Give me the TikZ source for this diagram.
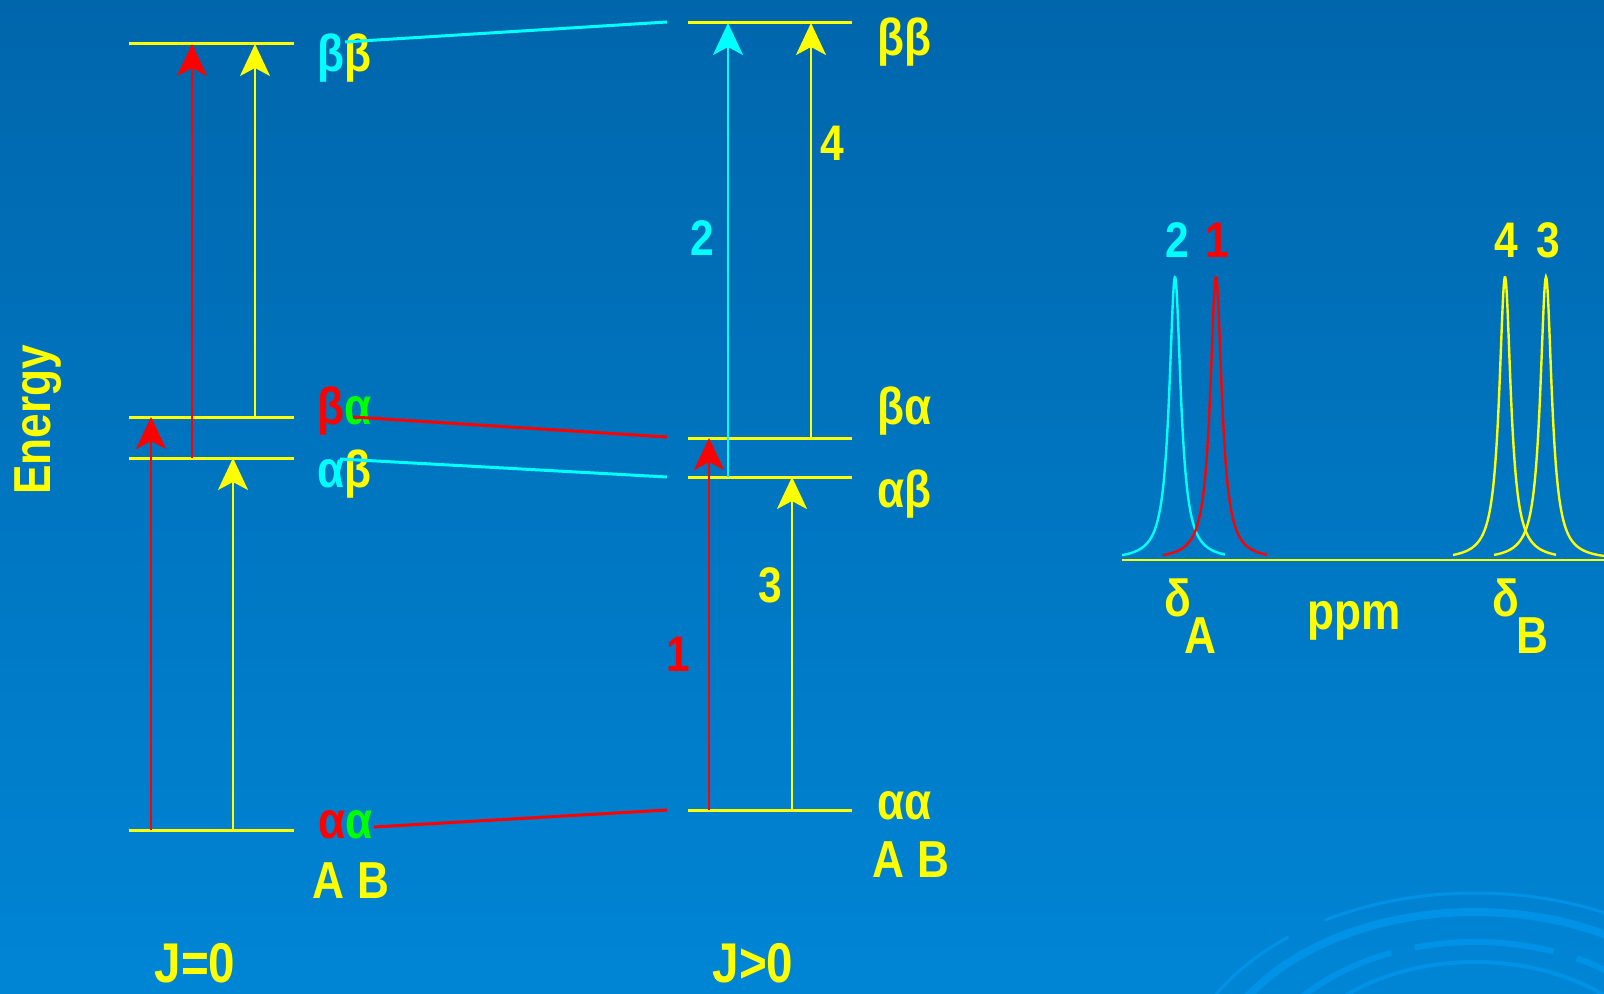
\documentclass[tikz,border=0pt]{standalone}
\usepackage{fontspec}
\setmainfont{Liberation Sans}[FakeStretch=0.85]
\usetikzlibrary{arrows.meta}

\definecolor{bgtop}{RGB}{0,102,172}
\definecolor{bgbot}{RGB}{0,133,213}
\definecolor{deco}{RGB}{0,146,230}
\definecolor{ylw}{RGB}{255,255,0}
\definecolor{cyn}{RGB}{0,255,255}
\definecolor{rd}{RGB}{255,0,0}
\definecolor{grn}{RGB}{0,255,0}

\begin{document}
\begin{tikzpicture}[x=0.5pt,y=-0.5pt,
  level/.style={ylw,line width=1.5pt},
  trans/.style={line width=1.2pt,-{Stealth[length=16pt,width=15pt,inset=4pt]}},
  link/.style={line width=1.5pt},
  lbl/.style={inner sep=0pt,text=ylw,font=\bfseries\fontsize{26}{30}\selectfont},
  num/.style={inner sep=0pt,font=\bfseries\fontsize{25}{30}\selectfont},
  peak/.style={line width=1.2pt,samples=200}]

  % background
  \useasboundingbox (0,0) rectangle (1604,994);
  \shade[top color=bgtop,bottom color=bgbot] (0,0) rectangle (1604,994);
  \begin{scope}
    \clip (0,0) rectangle (1604,994);
    \draw[deco,line width=1.5pt,dash pattern=on 150pt off 20pt] (1475,1090) ellipse [x radius=296,y radius=197];
    \draw[deco,line width=4pt] (1475,1090) ellipse [x radius=267,y radius=178];
    \draw[deco,line width=3pt,dash pattern=on 70pt off 12pt] (1475,1090) ellipse [x radius=222,y radius=148];
    \draw[deco,line width=2pt] (1475,1090) ellipse [x radius=192,y radius=128];
  \end{scope}

  % energy levels, J=0 (left) and J>0 (right)
  \foreach \n/\y in {bb/44,ba/417,ab/458,aa/830} {
    \coordinate (L\n) at (129,\y);
    \coordinate (L\n e) at (294,\y);
    \draw[level] (L\n) -- (L\n e);
  }
  \foreach \n/\y in {bb/23,ba/438,ab/477,aa/810} {
    \coordinate (R\n) at (688,\y);
    \coordinate (R\n e) at (852,\y);
    \draw[level] (R\n) -- (R\n e);
  }

  % transitions
  \coordinate (c1) at (151,0);
  \coordinate (c2) at (192,0);
  \coordinate (c3) at (233,0);
  \coordinate (c4) at (255,0);
  \draw[trans,rd] (c1 |- Laa) -- (c1 |- Lba);
  \draw[trans,rd] (c2 |- Lab) -- (c2 |- Lbb);
  \draw[trans,ylw] (c3 |- Laa) -- (c3 |- Lab);
  \draw[trans,ylw] (c4 |- Lba) -- (c4 |- Lbb);

  \coordinate (d1) at (709,0);
  \coordinate (d2) at (728,0);
  \coordinate (d3) at (792,0);
  \coordinate (d4) at (811,0);
  \draw[trans,rd] (d1 |- Raa) -- (d1 |- Rba);
  \draw[trans,cyn] (d2 |- Rab) -- (d2 |- Rbb);
  \draw[trans,ylw] (d3 |- Raa) -- (d3 |- Rab);
  \draw[trans,ylw] (d4 |- Rba) -- (d4 |- Rbb);

  \node[num,text=cyn] (n2) at (702,238) {2};
  \node[num,text=ylw] (n4) at (832,143) {4};
  \node[num,text=rd] (n1) at (678,654) {1};
  \node[num,text=ylw] (n3) at (770,585) {3};

  % state labels
  \node[lbl,anchor=west] (lbb) at (317,58) {\color{cyn}β\color{ylw}β};
  \node[lbl,anchor=west] (lba) at (317,411) {\color{rd}β\color{grn}α};
  \node[lbl,anchor=west] (lab) at (317,474) {\color{cyn}α\color{ylw}β};
  \node[lbl,anchor=west] (laa) at (318,825) {\color{rd}α\color{grn}α};
  \node[lbl] (lAB) at (351,881) {A B};

  \node[lbl,anchor=west] (rbb) at (877,42) {ββ};
  \node[lbl,anchor=west] (rba) at (877,411) {βα};
  \node[lbl,anchor=west] (rab) at (877,494) {αβ};
  \node[lbl,anchor=west] (raa) at (877,806) {αα};
  \node[lbl] (rAB) at (911,860) {A B};

  % correlation lines
  \coordinate (kbb) at (345,42);
  \coordinate (kba) at (353,417);
  \coordinate (kab) at (340,459);
  \coordinate (kaa) at (374,827);
  \coordinate (mbb) at (667,22);
  \coordinate (mba) at (667,437);
  \coordinate (mab) at (667,477);
  \coordinate (maa) at (667,810);
  \draw[link,cyn] (kbb) -- (mbb);
  \draw[link,rd] (kba) -- (mba);
  \draw[link,cyn] (kab) -- (mab);
  \draw[link,rd] (kaa) -- (maa);

  \node[lbl,rotate=90] (energy) at (38,420) {Energy};
  \node[lbl,font=\bfseries\fontsize{28}{32}\selectfont] (j0) at (195,963) {J=0};
  \node[lbl,font=\bfseries\fontsize{28}{32}\selectfont] (j1) at (753,963) {J>0};

  % spectrum
  \draw[ylw,line width=1.2pt] (1122,560) -- (1604,560);
  \draw[peak,cyn] plot[domain=1122:1225] (\x,{560-283/(1+((\x-1175)/7)^2)});
  \draw[peak,rd] plot[domain=1163:1267] (\x,{560-283/(1+((\x-1216)/7)^2)});
  \draw[peak,ylw] plot[domain=1453:1556] (\x,{560-283/(1+((\x-1505)/7)^2)});
  \draw[peak,ylw] plot[domain=1494:1604] (\x,{560-283/(1+((\x-1546)/7)^2)});

  \node[num,text=cyn] (s2) at (1177,240) {2};
  \node[num,text=rd] (s1) at (1217,240) {1};
  \node[num,text=ylw] (s4) at (1506,240) {4};
  \node[num,text=ylw] (s3) at (1548,240) {3};

  \node[lbl] (dA) at (1178,598) {δ};
  \node[lbl] (dAs) at (1200,636) {A};
  \node[lbl] (ppm) at (1354,621) {ppm};
  \node[lbl] (dB) at (1506,598) {δ};
  \node[lbl] (dBs) at (1532,636) {B};
\end{tikzpicture}
\end{document}
